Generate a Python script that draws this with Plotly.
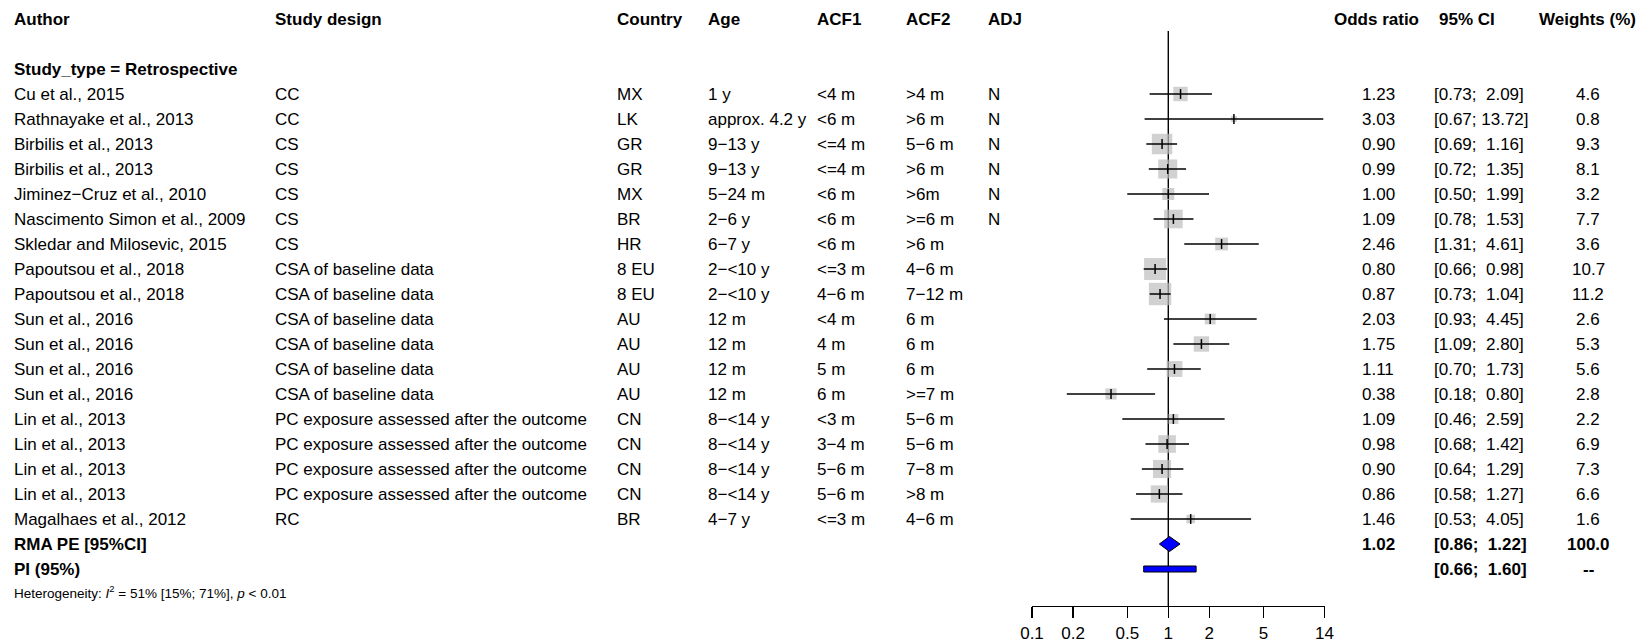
import math
import plotly.graph_objects as go

# ---------------- data ----------------
authors = ["Cu et al., 2015", "Rathnayake et al., 2013", "Birbilis et al., 2013", "Birbilis et al., 2013",
           "Jiminez\u2212Cruz et al., 2010", "Nascimento Simon et al., 2009", "Skledar and Milosevic, 2015",
           "Papoutsou et al., 2018", "Papoutsou et al., 2018", "Sun et al., 2016", "Sun et al., 2016",
           "Sun et al., 2016", "Sun et al., 2016", "Lin et al., 2013", "Lin et al., 2013", "Lin et al., 2013",
           "Lin et al., 2013", "Magalhaes et al., 2012"]
designs = ["CC", "CC", "CS", "CS", "CS", "CS", "CS", "CSA of baseline data", "CSA of baseline data",
           "CSA of baseline data", "CSA of baseline data", "CSA of baseline data", "CSA of baseline data",
           "PC exposure assessed after the outcome", "PC exposure assessed after the outcome",
           "PC exposure assessed after the outcome", "PC exposure assessed after the outcome", "RC"]
countries = ["MX", "LK", "GR", "GR", "MX", "BR", "HR", "8 EU", "8 EU", "AU", "AU", "AU", "AU",
             "CN", "CN", "CN", "CN", "BR"]
ages = ["1 y", "approx. 4.2 y", "9\u221213 y", "9\u221213 y", "5\u221224 m", "2\u22126 y", "6\u22127 y",
        "2\u2212<10 y", "2\u2212<10 y", "12 m", "12 m", "12 m", "12 m", "8\u2212<14 y", "8\u2212<14 y",
        "8\u2212<14 y", "8\u2212<14 y", "4\u22127 y"]
acf1 = ["<4 m", "<6 m", "<=4 m", "<=4 m", "<6 m", "<6 m", "<6 m", "<=3 m", "4\u22126 m", "<4 m", "4 m",
        "5 m", "6 m", "<3 m", "3\u22124 m", "5\u22126 m", "5\u22126 m", "<=3 m"]
acf2 = [">4 m", ">6 m", "5\u22126 m", ">6 m", ">6m", ">=6 m", ">6 m", "4\u22126 m", "7\u221212 m", "6 m",
        "6 m", "6 m", ">=7 m", "5\u22126 m", "5\u22126 m", "7\u22128 m", ">8 m", "4\u22126 m"]
adj = ["N", "N", "N", "N", "N", "N", "", "", "", "", "", "", "", "", "", "", "", ""]
or_vals = [1.23, 3.03, 0.90, 0.99, 1.00, 1.09, 2.46, 0.80, 0.87, 2.03, 1.75, 1.11, 0.38, 1.09, 0.98, 0.90, 0.86, 1.46]
ci_lo = [0.73, 0.67, 0.69, 0.72, 0.50, 0.78, 1.31, 0.66, 0.73, 0.93, 1.09, 0.70, 0.18, 0.46, 0.68, 0.64, 0.58, 0.53]
ci_hi = [2.09, 13.72, 1.16, 1.35, 1.99, 1.53, 4.61, 0.98, 1.04, 4.45, 2.80, 1.73, 0.80, 2.59, 1.42, 1.29, 1.27, 4.05]
weights = [4.6, 0.8, 9.3, 8.1, 3.2, 7.7, 3.6, 10.7, 11.2, 2.6, 5.3, 5.6, 2.8, 2.2, 6.9, 7.3, 6.6, 1.6]

pooled_or, pooled_lo, pooled_hi, pooled_wt = 1.02, 0.86, 1.22, 100.0
pi_lo, pi_hi = 0.66, 1.60
tick_vals = [0.1, 0.2, 0.5, 1, 2, 5, 14]
tick_text = ["0.1", "0.2", "0.5", "1", "2", "5", "14"]
left_headers = ["Author", "Study design", "Country", "Age", "ACF1", "ACF2", "ADJ"]
right_headers = ["Odds ratio", "95% CI", "Weights (%)"]
subgroup_label = "Study_type = Retrospective"
pooled_label = "RMA PE [95%CI]"
pi_label = "PI (95%)"
het_text = "Heterogeneity: <i>I</i><sup>2</sup> = 51% [15%; 71%], <i>p</i> &lt; 0.01"

# ---------------- layout constants ----------------
W, H = 1639, 644
ROW0, ROWH = 19.0, 25.0
FONT = "Liberation Sans, Arial, Helvetica, sans-serif"
FS = 17
col_x = [12.5, 274, 616, 707, 816, 905, 987]
OR_X, CI_X, WT_X = 1378, 1433, 1588
HDR_X = [1376, 1467, 1587]
AX_LEFT_PX, AX_RIGHT_PX, AX_Y_PX = 1032, 1324.5, 606
VLINE_TOP_PX = 31
SQ_K = 6.7


def esc(s):
    return s.replace("&", "&amp;").replace("<", "&lt;").replace(">", "&gt;")


def px2row(py):
    return (py - ROW0) / ROWH


def fx(px):
    return px / W


ROW_HDR, ROW_SUB = 0, 2
study_rows = [3 + i for i in range(len(authors))]
ROW_POOL = study_rows[-1] + 1
ROW_PI = ROW_POOL + 1
ROW_HET = ROW_PI + 1

fig = go.Figure()
ann = []


def add_text(px, row, text, anchor="left", bold=False, size=FS):
    t = f"<b>{text}</b>" if bold else text
    ann.append(dict(x=fx(px), xref="paper", y=row, yref="y", text=t, showarrow=False,
                    xanchor=anchor, yanchor="middle", borderpad=0,
                    font=dict(family=FONT, size=size, color="black")))


for x, h in zip(col_x, left_headers):
    add_text(x, ROW_HDR, h, bold=True)
for x, h in zip(HDR_X, right_headers):
    add_text(x, ROW_HDR, h, anchor="center", bold=True)
add_text(col_x[0], ROW_SUB, subgroup_label, bold=True)

for i, r in enumerate(study_rows):
    cols = [authors[i], designs[i], countries[i], ages[i], acf1[i], acf2[i], adj[i]]
    for x, c in zip(col_x, cols):
        if c:
            add_text(x, r, esc(c))
    add_text(OR_X, r, f"{or_vals[i]:.2f}", anchor="center")
    ci = f"[{ci_lo[i]:.2f}; {ci_hi[i]:5.2f}]".replace(" ", "\u00a0")
    add_text(CI_X, r, ci)
    add_text(WT_X, r, f"{weights[i]:.1f}", anchor="center")

add_text(col_x[0], ROW_POOL, esc(pooled_label), bold=True)
add_text(OR_X, ROW_POOL, f"{pooled_or:.2f}", anchor="center", bold=True)
add_text(CI_X, ROW_POOL, f"[{pooled_lo:.2f}; {pooled_hi:5.2f}]".replace(" ", "\u00a0"), bold=True)
add_text(WT_X, ROW_POOL, f"{pooled_wt:.1f}", anchor="center", bold=True)
add_text(col_x[0], ROW_PI, pi_label, bold=True)
add_text(CI_X, ROW_PI, f"[{pi_lo:.2f}; {pi_hi:5.2f}]".replace(" ", "\u00a0"), bold=True)
add_text(WT_X, ROW_PI, "--", anchor="center", bold=True)
add_text(col_x[0], ROW_HET - 0.08, het_text, size=13.5)

# squares (weights)
fig.add_trace(go.Scatter(
    x=or_vals, y=study_rows, mode="markers",
    marker=dict(symbol="square", size=[SQ_K * math.sqrt(w) for w in weights], color="#BEBEBE",
                line=dict(width=0)),
    hoverinfo="skip", showlegend=False))

# CI lines
lx, ly = [], []
for lo, hi, r in zip(ci_lo, ci_hi, study_rows):
    lx += [lo, hi, None]
    ly += [r, r, None]
fig.add_trace(go.Scatter(x=lx, y=ly, mode="lines", line=dict(color="black", width=1.5),
                         hoverinfo="skip", showlegend=False))

# point estimate ticks
fig.add_trace(go.Scatter(
    x=or_vals, y=study_rows, mode="markers",
    marker=dict(symbol="line-ns", size=7, line=dict(width=1.5, color="black")),
    hoverinfo="skip", showlegend=False))

# pooled diamond
dh = 0.3
fig.add_trace(go.Scatter(
    x=[pooled_lo, pooled_or, pooled_hi, pooled_or, pooled_lo],
    y=[ROW_POOL, ROW_POOL - dh, ROW_POOL, ROW_POOL + dh, ROW_POOL],
    mode="lines", fill="toself", fillcolor="#0000FF", line=dict(color="black", width=1),
    hoverinfo="skip", showlegend=False))

# prediction interval bar
ph = 0.12
fig.add_trace(go.Scatter(
    x=[pi_lo, pi_hi, pi_hi, pi_lo, pi_lo],
    y=[ROW_PI - ph, ROW_PI - ph, ROW_PI + ph, ROW_PI + ph, ROW_PI - ph],
    mode="lines", fill="toself", fillcolor="#0000FF", line=dict(color="black", width=1),
    hoverinfo="skip", showlegend=False))

shapes = [dict(type="line", xref="x", yref="y", x0=1, x1=1, y0=px2row(VLINE_TOP_PX), y1=px2row(AX_Y_PX),
               line=dict(color="black", width=1.4), layer="below")]

fig.update_layout(
    width=W, height=H, margin=dict(l=0, r=0, t=0, b=0, pad=0, autoexpand=False),
    paper_bgcolor="white", plot_bgcolor="rgba(0,0,0,0)",
    annotations=ann, shapes=shapes, showlegend=False, hovermode=False,
    xaxis=dict(type="log", domain=[fx(AX_LEFT_PX), fx(AX_RIGHT_PX)],
               range=[math.log10(tick_vals[0]), math.log10(tick_vals[-1])],
               anchor="free", position=(H - AX_Y_PX) / H, automargin=False,
               tickvals=tick_vals, ticktext=tick_text, ticks="outside", ticklen=11, tickwidth=1.4,
               tickcolor="black", showline=True, linecolor="black", linewidth=1.4,
               showgrid=False, zeroline=False, tickfont=dict(family=FONT, size=FS, color="black")),
    yaxis=dict(range=[px2row(H), px2row(0)], domain=[0, 1], visible=False, showgrid=False,
               zeroline=False, automargin=False),
)

fig.write_html("out.html", config={"displayModeBar": False, "staticPlot": True},
               post_script="document.body.style.margin='0px';document.body.style.overflow='hidden';")
